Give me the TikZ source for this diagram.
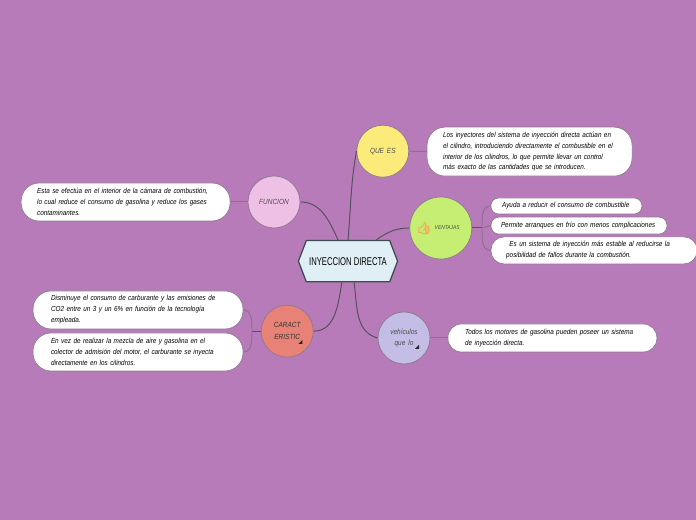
\documentclass[tikz,border=0pt]{standalone}
\usepackage{fontspec}
\newfontfamily\handfont[FakeStretch=0.87,WordSpace=1.6]{Liberation Sans}
\newfontfamily\hubfont[FakeStretch=0.68]{Liberation Sans}
\newfontfamily\emojifont[FakeBold=4]{Noto Emoji}
\usetikzlibrary{shapes.symbols}
\definecolor{pagebg}{HTML}{B87BB9}
\definecolor{hubfill}{HTML}{E0EEF5}
\definecolor{hubline}{HTML}{3F4A50}
\definecolor{rimline}{HTML}{8C7A90}
\definecolor{twigline}{HTML}{8F6C96}
\definecolor{stemline}{HTML}{55505C}
\definecolor{yellowfill}{HTML}{FBEB7A}
\definecolor{greenfill}{HTML}{C5EE73}
\definecolor{pinkfill}{HTML}{EFC0E6}
\definecolor{salmonfill}{HTML}{E88277}
\definecolor{lavenderfill}{HTML}{C4BDE6}
\definecolor{thumbcolor}{HTML}{EDB25F}
\begin{document}
\begin{tikzpicture}[
  hub/.style={draw=hubline, fill=hubfill, line width=0.9pt, signal, signal to=west and east, signal pointer angle=138, minimum width=2.48cm, minimum height=1.03cm, inner sep=0pt, font=\hubfont\fontsize{8}{9}\selectfont},
  topic/.style={circle, draw=rimline, line width=0.5pt, minimum size=1.3cm, inner sep=0pt, align=center, text=black!70, font=\handfont\itshape\fontsize{5.3}{8.4}\selectfont},
  bubble/.style={draw=rimline, fill=white, line width=0.5pt, rounded corners=0.45cm, align=left, inner xsep=0.4cm, inner ysep=0pt, text=black, font=\handfont\itshape\fontsize{5.2}{7.8}\selectfont},
  stem/.style={draw=stemline, line width=0.7pt},
  twig/.style={draw=twigline, line width=0.7pt}
]
\fill[pagebg] (0,0) rectangle (17.4,13);
\useasboundingbox (0,0) rectangle (17.4,13);

% --- centre ---
\node[hub] (hub) at (8.7,6.47) {INYECCION DIRECTA};

% --- circles ---
\node[topic, fill=yellowfill] (quees) at (9.57,9.22) {QUE ES};
\node[topic, fill=greenfill, minimum size=1.55cm, font=\handfont\itshape\fontsize{4}{5}\selectfont] (ventajas) at (11.02,7.3)
  {\hspace*{0.32cm}VENTAJAS};
\node[topic, fill=pinkfill] (funcion) at (6.85,7.95) {FUNCION};
\node[topic, fill=salmonfill, text=black!80] (caract) at (7.18,4.72) {CARACT\\ERISTIC};
\node[topic, fill=lavenderfill] (vehiculos) at (10.1,4.55) {vehículos\\que lo};

% --- thumb and corner marks ---
\node[inner sep=0pt, text=thumbcolor, font=\emojifont\fontsize{8.5}{8.5}\selectfont] (thumb) at (10.6,7.3) {👍};
\fill[black!85] (7.56,4.4) -- (7.46,4.4) -- (7.56,4.5) -- cycle;
\fill[black!85] (10.48,4.28) -- (10.38,4.28) -- (10.48,4.38) -- cycle;

% --- text boxes ---
\node[bubble, text width=4.325cm, minimum height=1.225cm] (queestext) at (13.24,9.21)
  {Los inyectores del sistema de inyección directa actúan en\\
   el cilindro, introduciendo directamente el combustible en el\\
   interior de los cilindros, lo que permite llevar un control\\
   más exacto de las cantidades que se introducen.};
\node[bubble, rounded corners=0.19cm, inner xsep=0.28cm, text width=3.215cm, minimum height=0.4cm] (ayuda) at (14.16,7.85)
  {Ayuda a reducir el consumo de combustible};
\node[bubble, rounded corners=0.2cm, inner xsep=0.25cm, text width=3.9cm, minimum height=0.425cm] (permite) at (14.475,7.36)
  {Permite arranques en frío con menos complicaciones};
\node[bubble, rounded corners=0.32cm, inner xsep=0.38cm, text width=4.39cm, minimum height=0.675cm] (estable) at (14.85,6.74)
  {\hspace*{0.08cm}Es un sistema de inyección más estable al reducirse la\\
   posibilidad de fallos durante la combustión.};
\node[bubble, text width=4.425cm, minimum height=0.95cm] (funciontext) at (3.14,7.95)
  {Esta se efectúa en el interior de la cámara de combustión,\\
   lo cual reduce el consumo de gasolina y reduce los gases\\
   contaminantes.};
\node[bubble, inner xsep=0.45cm, text width=4.35cm, minimum height=0.95cm] (disminuye) at (3.45,5.25)
  {Disminuye el consumo de carburante y las emisiones de\\
   CO2 entre un 3 y un 6\% en función de la tecnología\\
   empleada.};
\node[bubble, inner xsep=0.45cm, text width=4.35cm, minimum height=0.95cm] (envez) at (3.45,4.2)
  {En vez de realizar la mezcla de aire y gasolina en el\\
   colector de admisión del motor, el carburante se inyecta\\
   directamente en los cilindros.};
\node[bubble, rounded corners=0.34cm, inner xsep=0.43cm, text width=4.365cm, minimum height=0.7cm] (todos) at (13.81,4.55)
  {Todos los motores de gasolina pueden poseer un sistema\\
   de inyección directa.};

% --- joints of the brackets ---
\coordinate (ventajasjoint) at (12.05,7.3);
\coordinate (caractjoint) at (6.3,4.72);

% --- from the centre to the circles ---
\draw[stem] (hub.90) to[out=85,in=-100] (quees.west);
\draw[stem] (hub.115) to[out=115,in=0] (funcion.east);
\draw[stem] (hub.37) to[out=35,in=180] (ventajas.west);
\draw[stem] (hub.-106) to[out=-100,in=0] (caract.east);
\draw[stem] (hub.-74) to[out=-82,in=165] (vehiculos.west);

% --- from the circles to the text ---
\draw[twig] (quees.east) -- (queestext.west);
\draw[twig] (funcion.west) -- (funciontext.east);
\draw[twig] (vehiculos.east) -- (todos.west);
\draw[stem] (ventajas.east) -- (ventajasjoint);
\draw[twig] (ventajasjoint) -- (permite.west);
\draw[twig] (ventajasjoint) to[out=90,in=180] (ayuda.west);
\draw[twig] (ventajasjoint) to[out=-90,in=180] (estable.west);
\draw[stem] (caract.west) -- (caractjoint);
\draw[twig] (caractjoint) to[out=90,in=0] (disminuye.east);
\draw[twig] (caractjoint) to[out=-90,in=0] (envez.east);

\end{tikzpicture}
\end{document}
